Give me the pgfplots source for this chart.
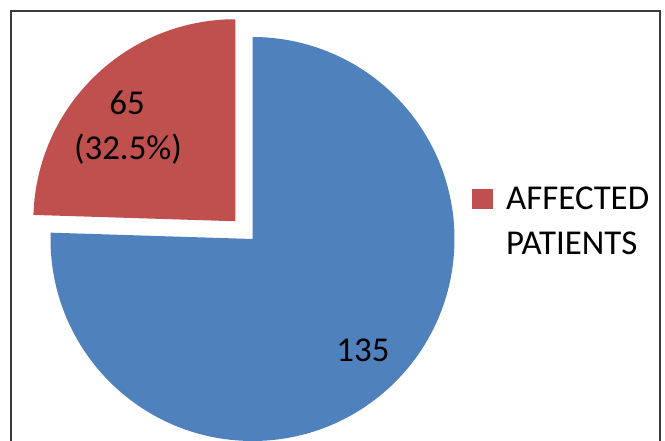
\documentclass[border=0pt]{standalone}
\usepackage{pgfplots}
\pgfplotsset{compat=1.18}
\usepackage{pgfplotstable}
\usetikzlibrary{calc}
\usepackage{fontspec}
\setmainfont{Carlito}
\definecolor{pieblue}{HTML}{4F81BD}
\definecolor{piered}{HTML}{C0504D}
\definecolor{framegray}{HTML}{3A3A3A}

% value = printed value, share = drawn share of the circle (percent)
\pgfplotstableread{
slice value share
affected 65 24.5
other 135 75.5
}\piedata

\begin{document}
\begin{tikzpicture}
\pgfplotstablegetelem{0}{share}\of\piedata \let\shareA\pgfplotsretval
\pgfplotstablegetelem{0}{value}\of\piedata \let\valA\pgfplotsretval
\pgfplotstablegetelem{1}{value}\of\piedata \let\valB\pgfplotsretval
\pgfmathsetmacro{\aEnd}{90+3.6*\shareA}
\pgfmathsetmacro{\aMid}{(90+\aEnd)/2}
\begin{axis}[
  scale only axis, width=665bp, height=441bp,
  xmin=0, xmax=665, ymin=0, ymax=441,
  hide axis, clip=true,
]
\coordinate (sw) at (axis cs:0,0);
\coordinate (ne) at (axis cs:665,441);
\addplot[draw=none] coordinates {(0,0) (665,441)};
% other (blue) slice
\fill[pieblue] (axis cs:252.5,202) -- ++(\aEnd:202bp)
  arc[start angle=\aEnd, end angle=450, radius=202bp] -- cycle;
% affected (red) slice, exploded
\fill[piered] ($(axis cs:252.5,202)+(\aMid:24.7bp)$) -- ++(90:202bp)
  arc[start angle=90, end angle=\aEnd, radius=202bp] -- cycle;
% frame
\draw[line width=2bp, framegray] (axis cs:11,-3) -- (axis cs:11,429.5) -- (axis cs:660,429.5) -- (axis cs:660,-3);
% data labels
\node[anchor=base, font=\fontsize{35}{40}\selectfont, inner sep=0pt] at (axis cs:127,326) {\valA};
\node[anchor=base, font=\fontsize{35}{40}\selectfont, inner sep=0pt] at (axis cs:128,281) {(32.5\%)};
\node[anchor=base, font=\fontsize{35}{40}\selectfont, inner sep=0pt] at (axis cs:363,79) {\valB};
% legend
\fill[piered] (axis cs:472,232) rectangle (axis cs:493,252);
\node[anchor=base west, font=\fontsize{35}{40}\selectfont, inner sep=0pt] at (axis cs:506,231) {AFFECTED};
\node[anchor=base west, font=\fontsize{35}{40}\selectfont, inner sep=0pt] at (axis cs:506,186) {PATIENTS};
\end{axis}
\pgfresetboundingbox
\path (sw) rectangle (ne);
\end{tikzpicture}
\end{document}
